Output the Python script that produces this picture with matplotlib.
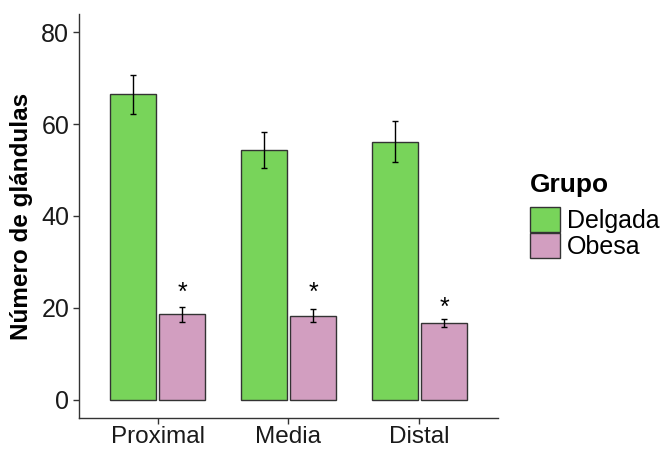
import numpy as np
import matplotlib.pyplot as plt
from matplotlib.patches import Patch

plt.rcParams['font.family'] = ['Liberation Sans', 'DejaVu Sans']

regiones = ['Proximal', 'Media', 'Distal']
delgada_media = [66.5, 54.3, 56.2]
delgada_ee = [4.2, 3.9, 4.5]
obesa_media = [18.6, 18.3, 16.7]
obesa_ee = [1.6, 1.4, 0.95]
asterisco_y = [21.7, 21.7, 18.4]

verde = '#78d45a'
rosa = '#d29ec0'

fig = plt.figure(figsize=(6.71, 4.49), dpi=100)
ax = fig.add_axes([0.1177, 0.069, 0.6245, 0.9])

x = np.arange(1, len(regiones) + 1)
w = 0.35
off = 0.188

ax.bar(x - off, delgada_media, width=w, color=verde, edgecolor='#333333', linewidth=1.0, zorder=2)
ax.bar(x + off, obesa_media, width=w, color=rosa, edgecolor='#333333', linewidth=1.0, zorder=2)
ax.errorbar(x - off, delgada_media, yerr=delgada_ee, fmt='none', ecolor='black',
            elinewidth=1.0, capsize=2.4, capthick=1.0, zorder=3)
ax.errorbar(x + off, obesa_media, yerr=obesa_ee, fmt='none', ecolor='black',
            elinewidth=1.0, capsize=2.4, capthick=1.0, zorder=3)

# marca de significancia sobre las barras de obesas
for xi, yi in zip(x + off, asterisco_y):
    ax.text(xi, yi, '*', ha='center', va='baseline', fontsize=18, color='black')

ax.set_xlim(0.4, 3.6)
ax.set_ylim(-4, 84)
ax.set_xticks(x)
ax.set_xticklabels(regiones)
ax.set_yticks([0, 20, 40, 60, 80])
ax.tick_params(axis='y', labelsize=18, colors='#333333', length=4, width=1,
               labelcolor='#1a1a1a', pad=3)
ax.tick_params(axis='x', labelsize=17.5, colors='#333333', length=4, width=1,
               labelcolor='#1a1a1a', pad=2)
ax.set_ylabel('Número de glándulas', fontsize=17.5, fontweight='bold', labelpad=6)

for s in ['top', 'right']:
    ax.spines[s].set_visible(False)
for s in ['left', 'bottom']:
    ax.spines[s].set_color('#333333')
    ax.spines[s].set_linewidth(1.0)

handles = [Patch(facecolor=verde, edgecolor='#333333', label='Delgada'),
           Patch(facecolor=rosa, edgecolor='#333333', label='Obesa')]
leg = fig.legend(handles=handles, title='Grupo', loc='upper left',
                 bbox_to_anchor=(0.790, 0.615), frameon=False, fontsize=18,
                 title_fontproperties={'weight': 'bold', 'size': 19},
                 handlelength=1.18, handleheight=1.2, handletextpad=0.3,
                 labelspacing=0.0, borderpad=0.0, borderaxespad=0.0)
leg._legend_box.align = 'left'
leg._legend_box.sep = 7

fig.savefig('out.png', dpi=100)
